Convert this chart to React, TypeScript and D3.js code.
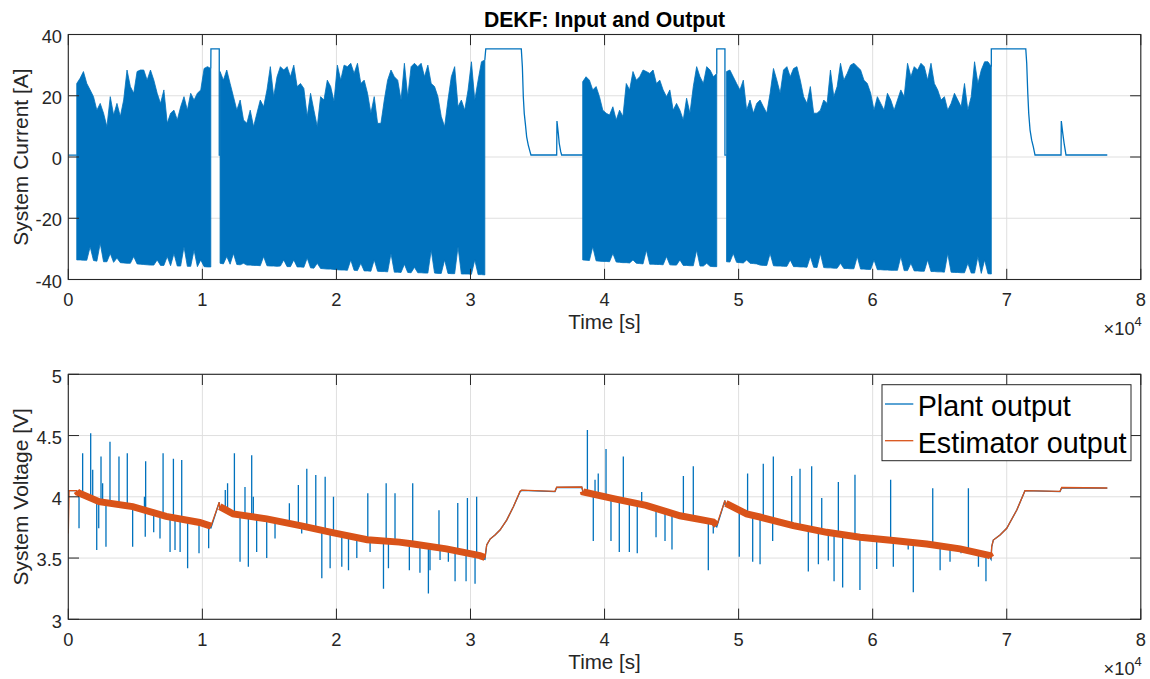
import React, { useEffect } from 'react';
import * as d3 from 'd3';

// ---------------- DATA ----------------
const xTickValues = [0, 1, 2, 3, 4, 5, 6, 7, 8]; // x 10^4 s
const xTickLabels = ['0', '1', '2', '3', '4', '5', '6', '7', '8'];
const currentTicks = [-40, -20, 0, 20, 40];
const currentTickLabels = ['-40', '-20', '0', '20', '40'];
const voltageTicks = [3, 3.5, 4, 4.5, 5];
const voltageTickLabels = ['3', '3.5', '4', '4.5', '5'];

// dense drive-cycle current: envelope samples (A), one per step
const segStep = 250; // s
const segStarts = [630, 11320, 38370, 49100];
const segAUpper = [24.0,25.7,27.9,24.0,21.9,19.7,15.3,17.5,14.3,9.9,19.7,13.7,17.5,13.2,18.6,28.4,23.0,20.8,27.9,28.4,28.4,25.1,28.4,25.1,20.8,17.5,21.9,11.0,14.3,15.3,12.1,16.4,19.7,15.3,20.8,18.6,20.8,21.9,28.9,29.5,28.9];
const segALower = [-33.6,-33.6,-33.7,-33.7,-29.3,-33.8,-34.0,-28.2,-34.2,-34.2,-31.5,-34.4,-33.0,-34.5,-34.6,-34.7,-34.7,-32.5,-34.9,-35.0,-35.1,-35.2,-35.3,-35.3,-33.6,-35.4,-35.4,-32.5,-35.5,-31.5,-35.6,-35.6,-29.3,-35.7,-35.7,-30.4,-35.8,-33.6,-35.8,-35.9,-35.9];
const segBUpper = [27.9,25.1,28.4,24.0,19.7,15.3,18.6,12.1,11.0,15.3,9.9,14.3,18.6,16.4,21.9,29.5,19.7,26.2,29.5,28.4,29.5,26.2,30.0,23.0,24.0,22.4,13.2,20.8,15.3,9.9,19.7,18.6,25.1,23.0,18.1,30.0,25.1,30.0,29.5,30.6,27.3,30.6,24.0,25.1,20.8,14.3,19.7,11.0,
  11.0,18.6,25.1,28.4,26.2,25.1,18.6,30.6,19.7,29.5,30.6,29.5,30.6,26.2,30.0,24.0,23.0,19.7,13.2,9.9,18.6,26.2,29.5,16.4,18.6,15.3,21.9,31.1,18.6,25.1,31.1,31.7];
const segBLower = [-34.7,-34.9,-32.5,-35.0,-31.5,-35.1,-35.2,-34.7,-35.3,-35.3,-35.4,-35.4,-35.5,-32.5,-35.5,-35.6,-35.6,-35.7,-35.6,-33.6,-35.8,-35.8,-33.6,-35.9,-35.9,
  -36.0,-33.0,-36.2,-36.3,-34.7,-36.4,-36.5,-36.6,-36.6,-36.7,-36.8,-36.9,-36.9,-37.0,-33.6,-37.0,-37.1,-34.7,-37.2,-37.2,-37.3,-33.6,-37.3,-37.4,
  -37.4,-37.5,-31.5,-37.6,-37.6,-37.7,-35.0,-37.7,-37.8,-36.0,-37.8,-37.8,-37.9,-37.9,-30.4,-37.9,-38.0,-38.0,-33.6,-38.0,-38.1,-38.1,-29.3,-38.2,-38.2,-38.2,-38.3,-33.6,-38.4,-38.4,-38.5];
const segCUpper = [24.6,26.2,25.1,21.9,23.0,19.7,15.3,14.3,13.7,16.4,12.1,15.3,13.2,24.0,21.9,27.9,25.1,26.2,28.4,27.9,27.3,28.4,24.0,25.1,21.9,19.7,21.9,15.3,17.5,15.3,12.1,19.2,14.3,23.0,29.5,26.2,24.0,29.5,28.4,26.2,27.3];
const segCLower = [-33.6,-33.7,-33.8,-29.3,-33.9,-34.0,-34.1,-34.1,-34.2,-31.5,-34.3,-34.4,-34.5,-34.5,-34.6,-33.6,-34.7,-34.8,-34.9,-30.4,-35.0,-35.0,-35.1,-35.1,-35.2,-32.5,-35.2,-35.3,-35.3,-33.6,-35.4,-35.4,-35.5,-35.5,-30.4,-35.6,-35.6,-34.7,-35.7,-35.8,-35.8];
const segDUpper = [27.9,28.4,26.2,24.0,21.9,25.1,15.3,18.6,14.3,17.5,
  18.6,16.4,14.3,20.8,28.9,25.1,20.8,28.4,29.5,26.2,28.9,29.5,25.1,19.7,17.5,23.0,14.3,14.3,15.3,18.6,
  17.5,28.4,19.7,23.0,30.6,25.1,27.3,30.0,30.6,29.5,28.4,25.1,24.0,20.8,15.3,19.7,17.5,15.3,20.8,18.6,
  15.3,18.6,21.9,19.7,30.6,26.2,29.5,28.4,30.6,29.5,25.1,30.6,24.0,21.9,18.6,19.7,15.3,17.5,20.8,18.6,
  16.4,24.0,15.3,19.7,31.1,24.0,28.4,31.1,31.1,29.5];
const segDLower = [-34.2,-34.3,-31.5,-34.4,-34.5,-34.6,-33.6,-34.7,-34.8,-34.9,
  -35.3,-35.4,-35.4,-31.5,-35.5,-35.6,-35.6,-35.7,-35.7,-33.6,-35.8,-35.8,-35.9,-35.9,-36.0,-32.5,-36.0,-36.1,-31.5,-36.1,
  -36.2,-36.2,-36.3,-36.3,-34.7,-36.4,-36.4,-36.5,-36.5,-32.5,-36.6,-36.6,-36.7,-36.7,-33.6,-36.8,-36.8,-36.9,-36.9,-37.0,
  -37.0,-37.0,-32.5,-37.1,-37.1,-34.7,-37.2,-37.2,-37.3,-37.3,-33.6,-37.4,-37.4,-37.5,-37.5,-37.6,-31.5,-37.6,-37.7,-37.7,
  -37.8,-37.8,-34.7,-37.9,-37.9,-32.5,-38.0,-33.6,-38.1,-38.2];

// current outside the drive cycles (charge / rest), t in s, I in A
const restPre_T = [0, 630];
const restPre_I = [0.6, 0.6];
const rest1_T = [10630, 10640, 11260, 11260, 11320];
const rest1_I = [28.9, 35.3, 35.3, 0.6, 0.6];
const rest2_T = [31070, 31140, 33790, 33870, 33940, 34010, 34090, 34190, 34310, 34440, 34510, 36430, 36450, 36550, 36620, 36730, 36800, 38370];
const rest2_I = [31.7, 35.3, 35.3, 29.5, 19.7, 14.25, 11.0, 6.6, 3.9, 1.74, 0.65, 0.65, 11.75, 7.7, 4.45, 1.74, 0.65, 0.65];
const rest3_T = [48370, 48370, 48980, 48980, 49100];
const rest3_I = [27.3, 35.3, 35.3, 0.6, 0.6];
const rest4_T = [68850, 68850, 71420, 71490, 71570, 71640, 71740, 71860, 71980, 72110, 74050, 74070, 74180, 74280, 74380, 74420, 77500];
const rest4_I = [29.5, 35.3, 35.3, 30.6, 20.8, 14.25, 8.8, 5.5, 3.4, 0.65, 0.65, 11.75, 7.7, 4.45, 1.74, 0.65, 0.65];

// plant output voltage baseline (V)
const plantT = [0,600,700,2300,4800,7300,9800,10640,11260,11300,12300,14800,17300,19800,22300,24700,25740,28200,30700,31080,31210,31460,31830,32200,32700,33200,33700,33820,36300,36430,38300,38420,40660,43100,45630,48100,48370,48980,49000,50600,51590,54080,56570,59060,61540,64030,66520,68750,68830,68880,69000,69500,70000,70750,71360,73970,74100,77500];
const plantV = [4.05,4.05,4.015,3.945,3.905,3.825,3.775,3.745,3.955,3.905,3.845,3.805,3.75,3.69,3.635,3.615,3.60,3.56,3.505,3.49,3.607,3.655,3.688,3.729,3.81,3.919,4.042,4.052,4.042,4.076,4.078,4.025,3.97,3.915,3.83,3.78,3.755,3.97,3.935,3.845,3.82,3.75,3.695,3.655,3.628,3.60,3.56,3.505,3.49,3.593,3.647,3.688,3.743,3.892,4.05,4.042,4.074,4.07];
// plant output spikes: time (s) and extreme value (V)
const spikeT = [800,1070,1670,1820,2120,2270,2440,2560,2810,3110,3780,4400,4800,5680,5740,5770,6370,6840,7070,7590,7840,7960,8340,8460,8900,9750,10470,
  11710,11880,12390,12810,13180,13430,13680,13800,14050,14800,15420,16490,17160,17410,17790,18460,18910,19160,19530,19780,20400,20900,21520,22340,22510,23510,23710,23880,
  24370,25440,25690,26230,26860,26980,27650,27730,28350,28850,29050,29670,29770,30340,30460,
  38720,39160,39290,39530,40110,40480,41100,41400,41850,42440,42770,43840,44510,45030,45880,46620,47740,48110,
  50050,50670,51050,51600,51840,52540,52590,53960,54580,55200,55450,55950,56200,56690,57120,57440,57760,58680,59050,60300,61340,61540,62650,63030,64480,65030,65770,66590,67140,67510,67890,68450];
const spikeV = [3.743,4.355,4.518,4.22,3.566,3.743,4.33,4.11,3.593,4.45,4.33,4.355,3.593,4.0,3.674,4.29,3.71,3.66,4.355,3.55,4.31,3.566,3.55,4.30,3.416,3.54,3.58,
  4.055,4.11,4.355,3.47,4.08,3.43,4.34,4.0,3.55,3.50,3.66,3.947,4.096,3.70,4.23,4.178,3.335,4.164,3.416,4.0,3.43,3.40,3.50,4.03,3.55,3.25,4.11,3.416,
  4.03,3.40,4.11,3.38,3.21,3.40,3.89,3.484,3.47,3.31,3.95,3.31,3.99,3.29,4.0,
  4.545,3.64,4.14,4.19,4.39,3.64,3.55,4.33,3.55,3.54,4.04,3.67,3.64,3.57,4.17,4.25,3.40,3.70,
  3.51,4.19,3.47,3.45,4.27,3.64,4.33,4.17,4.23,3.39,4.25,3.45,3.99,3.48,3.31,4.12,3.26,4.18,3.24,3.41,4.14,3.43,3.57,3.22,4.07,3.40,3.47,3.54,4.07,3.54,3.43,3.31];

// estimator output (V)
const estT = [0,60,600,700,2300,4800,7300,9800,10640,11260,11300,12300,14800,17300,19800,22300,24700,25740,28200,30700,31080,31210,31460,31830,32200,32700,33200,33700,33820,36300,36430,38300,38420,40660,43100,45630,48100,48370,48980,49000,50600,51590,54080,56570,59060,61540,64030,66520,68750,68830,68880,69000,69500,70000,70750,71360,73970,74100,77500];
const estV = [3.70,4.05,4.05,4.035,3.96,3.92,3.84,3.79,3.76,3.955,3.92,3.86,3.82,3.765,3.705,3.65,3.63,3.615,3.575,3.52,3.505,3.607,3.655,3.688,3.729,3.81,3.919,4.045,4.055,4.045,4.078,4.08,4.04,3.985,3.93,3.845,3.795,3.77,3.97,3.95,3.86,3.835,3.765,3.71,3.67,3.643,3.615,3.575,3.52,3.505,3.593,3.647,3.688,3.743,3.892,4.05,4.045,4.076,4.072];
const estBandStart = [620, 11300, 38400, 49050];
const estBandEnd = [10640, 31080, 48370, 68830];

const legendLabels = ['Plant output', 'Estimator output'];

// ---------------- LAYOUT ----------------
const W = 1150, H = 679;
const L = 68.3, R = 1140.8;
const T1 = 34.5, B1 = 279.5;
const T2 = 374.3, B2 = 619.3;
const BLUE = '#0072BD';
const ORANGE = '#D95319';
const AXC = '#262626';
const GRID = '#dfdfdf';
const FONT = "'Liberation Sans', Arial, Helvetica, sans-serif";
const TICK = 10.7;

const x = d3.scaleLinear().domain([0, 80000]).range([L, R]);
const yC = d3.scaleLinear().domain([-40, 40]).range([B1, T1]);
const yV = d3.scaleLinear().domain([3, 5]).range([B2, T2]);

function interp(ts: number[], vs: number[], t: number) {
  const i = d3.bisectRight(ts, t);
  if (i <= 0) return vs[0];
  if (i >= ts.length) return vs[vs.length - 1];
  const t0 = ts[i - 1], t1 = ts[i];
  const f = t1 === t0 ? 0 : (t - t0) / (t1 - t0);
  return vs[i - 1] + f * (vs[i] - vs[i - 1]);
}

function Axes({ top, bottom, y, ticks, labels, ylabel }: any) {
  const xs = xTickValues.map(v => x(v * 1e4));
  return (
    <g>
      {xs.map((px, i) => (
        <g key={'x' + i}>
          <line x1={px} x2={px} y1={bottom} y2={bottom - TICK} stroke={AXC} strokeWidth={1} />
          <line x1={px} x2={px} y1={top} y2={top + TICK} stroke={AXC} strokeWidth={1} />
          <text x={px} y={bottom + 26.5} textAnchor="middle" fontSize={18.3} fill={AXC} fontFamily={FONT}>{xTickLabels[i]}</text>
        </g>
      ))}
      {ticks.map((v: number, i: number) => (
        <g key={'y' + i}>
          <line x1={L} x2={L + TICK} y1={y(v)} y2={y(v)} stroke={AXC} strokeWidth={1} />
          <line x1={R} x2={R - TICK} y1={y(v)} y2={y(v)} stroke={AXC} strokeWidth={1} />
          <text x={62} y={y(v) + 8.2} textAnchor="end" fontSize={18.3} fill={AXC} fontFamily={FONT}>{labels[i]}</text>
        </g>
      ))}
      <rect x={L} y={top} width={R - L} height={bottom - top} fill="none" stroke={AXC} strokeWidth={1.1} />
      <text x={(L + R) / 2} y={bottom + 49.8} textAnchor="middle" fontSize={20.6} fill={AXC} fontFamily={FONT}>Time [s]</text>
      <text x={R + 1} y={bottom + 55.6} textAnchor="end" fontSize={18.3} fill={AXC} fontFamily={FONT}>
        ×10<tspan dy={-9} fontSize={13}>4</tspan>
      </text>
      <text transform={`translate(27.5,${(top + bottom) / 2}) rotate(-90)`} textAnchor="middle" fontSize={21} fill={AXC} fontFamily={FONT}>{ylabel}</text>
    </g>
  );
}

function Grid({ top, bottom, y, ticks }: any) {
  return (
    <g>
      {xTickValues.map((v, i) => (
        <line key={'gx' + i} x1={x(v * 1e4)} x2={x(v * 1e4)} y1={top} y2={bottom} stroke={GRID} strokeWidth={1} />
      ))}
      {ticks.map((v: number, i: number) => (
        <line key={'gy' + i} x1={L} x2={R} y1={y(v)} y2={y(v)} stroke={GRID} strokeWidth={1} />
      ))}
    </g>
  );
}

export default function App() {
  useEffect(() => {
    document.body.style.margin = '0';
  }, []);

  const segs = [
    { start: segStarts[0], up: segAUpper, lo: segALower },
    { start: segStarts[1], up: segBUpper, lo: segBLower },
    { start: segStarts[2], up: segCUpper, lo: segCLower },
    { start: segStarts[3], up: segDUpper, lo: segDLower },
  ];
  const noisePaths = segs.map(s => {
    const idx = d3.range(s.up.length);
    return d3.area<number>()
      .x(k => x(s.start + k * segStep))
      .y0(k => yC(s.lo[k]))
      .y1(k => yC(s.up[k]))(idx) as string;
  });

  const restSets: [number[], number[]][] = [
    [restPre_T, restPre_I], [rest1_T, rest1_I], [rest2_T, rest2_I], [rest3_T, rest3_I], [rest4_T, rest4_I],
  ];
  const restPaths = restSets.map(([ts, is]) =>
    d3.line<number>().x(k => x(ts[k])).y(k => yC(is[k]))(d3.range(ts.length)) as string);

  const plantPath = d3.line<number>().x(k => x(plantT[k])).y(k => yV(plantV[k]))(d3.range(plantT.length)) as string;
  const estPath = d3.line<number>().x(k => x(estT[k])).y(k => yV(estV[k]))(d3.range(estT.length)) as string;
  const bandPaths = estBandStart.map((s, j) => {
    const e = estBandEnd[j];
    const pts: [number, number][] = [];
    pts.push([s, interp(estT, estV, s)]);
    estT.forEach((t, k) => { if (t > s && t < e) pts.push([t, estV[k]]); });
    pts.push([e, interp(estT, estV, e)]);
    return d3.line<[number, number]>().x(p => x(p[0])).y(p => yV(p[1]))(pts) as string;
  });

  return (
    <svg width={W} height={H} viewBox={`0 0 ${W} ${H}`} style={{ display: 'block', position: 'absolute', left: 0, top: 0, background: '#fff' }}>
      <rect x={0} y={0} width={W} height={H} fill="#fff" />
      <defs>
        <clipPath id="clipTop"><rect x={L} y={T1} width={R - L} height={B1 - T1} /></clipPath>
        <clipPath id="clipBot"><rect x={L} y={T2} width={R - L} height={B2 - T2} /></clipPath>
      </defs>

      {/* ---------- top subplot ---------- */}
      <Grid top={T1} bottom={B1} y={yC} ticks={currentTicks} />
      <g clipPath="url(#clipTop)">
        {noisePaths.map((d, i) => (
          <path key={'n' + i} d={d} fill={BLUE} stroke={BLUE} strokeWidth={0.8} strokeLinejoin="miter" />
        ))}
        {restPaths.map((d, i) => (
          <path key={'r' + i} d={d} fill="none" stroke={BLUE} strokeWidth={1.3} />
        ))}
      </g>
      <Axes top={T1} bottom={B1} y={yC} ticks={currentTicks} labels={currentTickLabels} ylabel="System Current [A]" />
      <text x={(L + R) / 2} y={27} textAnchor="middle" fontSize={21.2} fontWeight="bold" fill="#000" fontFamily={FONT}>DEKF: Input and Output</text>

      {/* ---------- bottom subplot ---------- */}
      <Grid top={T2} bottom={B2} y={yV} ticks={voltageTicks} />
      <g clipPath="url(#clipBot)">
        <path d={plantPath} fill="none" stroke={BLUE} strokeWidth={1.3} />
        {spikeT.map((t, i) => {
          const base = interp(plantT, plantV, t);
          return <line key={'s' + i} x1={x(t)} x2={x(t)} y1={yV(base)} y2={yV(spikeV[i])} stroke={BLUE} strokeWidth={1.3} />;
        })}
        {bandPaths.map((d, i) => (
          <path key={'b' + i} d={d} fill="none" stroke={ORANGE} strokeWidth={7} strokeLinecap="butt" />
        ))}
        <path d={estPath} fill="none" stroke={ORANGE} strokeWidth={1.3} />
      </g>
      <Axes top={T2} bottom={B2} y={yV} ticks={voltageTicks} labels={voltageTickLabels} ylabel="System Voltage [V]" />

      {/* legend */}
      <g>
        <rect x={882} y={384.7} width={249} height={76} fill="#fff" stroke={AXC} strokeWidth={1} />
        <line x1={885} x2={913.3} y1={404} y2={404} stroke={BLUE} strokeWidth={1.3} />
        <line x1={885} x2={913.3} y1={440.7} y2={440.7} stroke={ORANGE} strokeWidth={1.3} />
        <text x={917.7} y={415.7} fontSize={28.7} fill="#000" fontFamily={FONT}>{legendLabels[0]}</text>
        <text x={917.7} y={452.7} fontSize={28.7} fill="#000" fontFamily={FONT}>{legendLabels[1]}</text>
      </g>
    </svg>
  );
}
